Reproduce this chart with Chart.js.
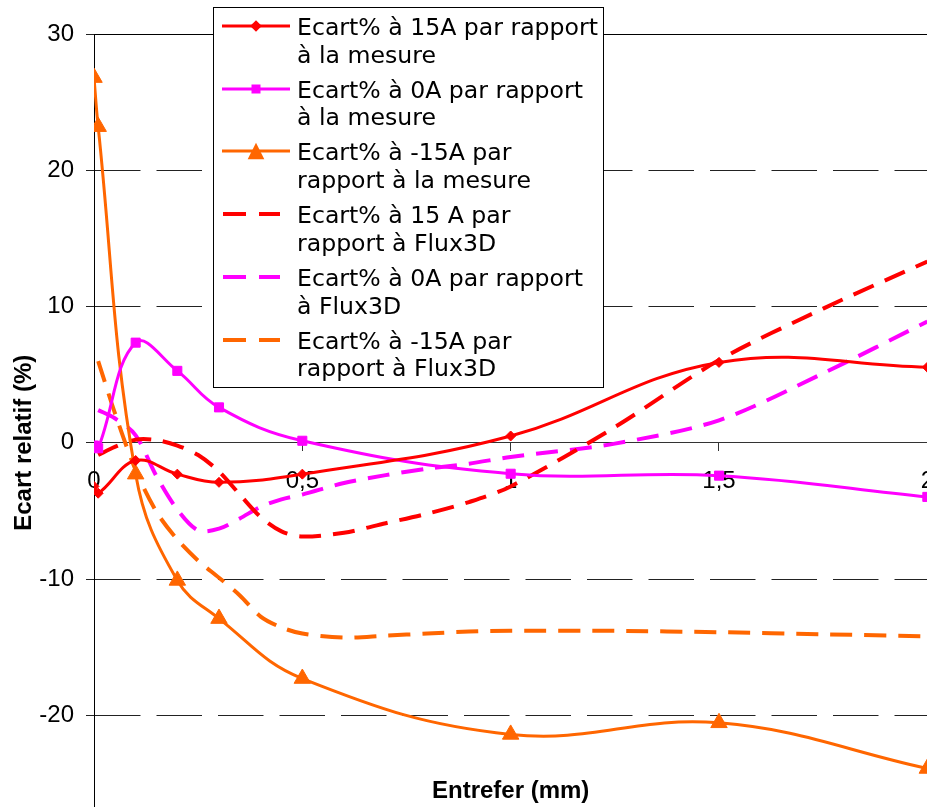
<!DOCTYPE html>
<html>
<head>
<meta charset="utf-8">
<script src="https://cdn.jsdelivr.net/npm/chart.js@4/dist/chart.umd.min.js"></script>
<style>
html,body{margin:0;padding:0;overflow:hidden;background:#fff;width:927px;height:807px}
canvas{display:block}
</style>
</head>
<body>
<canvas id="c" width="950" height="878"></canvas>
<script>
// ---- data ----
const measX    = [0, 0.01, 0.1, 0.2, 0.3, 0.5, 1, 1.5, 2];
const meas15A  = [-3.2, -3.7, -1.3, -2.3, -2.9, -2.3, 0.5, 5.9, 5.55];
const meas0A   = [-0.2, -0.4, 7.35, 5.28, 2.6, 0.15, -2.27, -2.41, -3.97];
const measM15A = [26.8, 23.2, -2.3, -10.1, -12.9, -17.3, -21.4, -20.55, -23.9];

const fluxX    = [0.01, 0.05, 0.1, 0.15, 0.2, 0.25, 0.3, 0.35, 0.4, 0.45, 0.5, 0.6, 0.7, 0.8, 0.9, 1, 1.25, 1.5, 1.75, 2];
const flux15A  = [-0.9, -0.3, 0.23, 0.2, -0.2, -0.9, -2.1, -3.8, -5.45, -6.5, -6.88, -6.6, -5.9, -5.2, -4.35, -3.2, 1.15, 6.07, 9.85, 13.3];
const flux0A   = [2.4, 1.8, 0.55, -2.45, -4.9, -6.43, -6.3, -5.55, -4.7, -4.15, -3.8, -2.95, -2.37, -1.9, -1.53, -1.04, -0.06, 1.65, 5.1, 8.9];
const fluxM15A = [6.0, 2.2, -2.0, -5.07, -7.1, -8.65, -9.9, -11.2, -12.75, -13.55, -14.0, -14.3, -14.15, -14.0, -13.85, -13.8, -13.8, -13.9, -14.05, -14.2];

const yTicks = [-30, -20, -10, 0, 10, 20, 30];
const xTicks = [0, 0.5, 1, 1.5, 2];

const seriesLabels = [
  ["Ecart% à 15A par rapport", "à la mesure"],
  ["Ecart% à 0A par rapport", "à la mesure"],
  ["Ecart% à -15A par", "rapport à la mesure"],
  ["Ecart% à 15 A par", "rapport à Flux3D"],
  ["Ecart% à 0A par rapport", "à Flux3D"],
  ["Ecart% à -15A par", "rapport à Flux3D"]
];
const yTitle = "Ecart relatif (%)";
const xTitle = "Entrefer (mm)";

const RED = '#FF0000', MAG = '#FF00FF', ORA = '#FF6600';
const pts = (xs, ys) => xs.map((x, i) => ({x: x, y: ys[i]}));

function solid(label, xs, ys, color, style, r) {
  return {label, data: pts(xs, ys), borderColor: color, backgroundColor: color,
    borderWidth: 3, pointStyle: style, pointRadius: r, pointHoverRadius: r,
    pointBorderWidth: 1, pointBackgroundColor: color, pointBorderColor: color,
    tension: 0.4, fill: false};
}
function dashed(label, xs, ys, color) {
  return {label, data: pts(xs, ys), borderColor: color, backgroundColor: color,
    borderWidth: 4, borderDash: [22, 12], pointRadius: 0, pointHoverRadius: 0,
    tension: 0.3, fill: false};
}

const datasets = [
  solid(seriesLabels[0], measX, meas15A, RED, 'rectRot', 5),
  solid(seriesLabels[1], measX, meas0A, MAG, 'rect', 6.4),
  solid(seriesLabels[2], measX, measM15A, ORA, 'triangle', 9.5),
  dashed(seriesLabels[3], fluxX, flux15A, RED),
  dashed(seriesLabels[4], fluxX, flux0A, MAG),
  dashed(seriesLabels[5], fluxX, fluxM15A, ORA)
];

function marker(ctx, style, x, y, r) {
  ctx.beginPath();
  if (style === 'rectRot') {
    ctx.moveTo(x, y - r); ctx.lineTo(x + r, y); ctx.lineTo(x, y + r); ctx.lineTo(x - r, y);
  } else if (style === 'rect') {
    ctx.rect(x - r, y - r, 2 * r, 2 * r);
  } else if (style === 'triangle') {
    ctx.moveTo(x, y - r); ctx.lineTo(x + r, y + r); ctx.lineTo(x - r, y + r);
  }
  ctx.closePath();
  ctx.fill();
}

const boxLegend = {
  id: 'boxLegend',
  afterDraw(chart) {
    const ctx = chart.ctx;
    const ca = chart.chartArea;
    ctx.save();
    // x axis title
    ctx.fillStyle = '#000';
    ctx.font = 'bold 24px "Liberation Sans", Arial, sans-serif';
    ctx.textAlign = 'center';
    ctx.textBaseline = 'alphabetic';
    ctx.fillText(xTitle, (ca.left + ca.right) / 2, 797.5);

    // legend box
    const bx = 213.5, by = 7.5, bw = 390, bh = 380;
    ctx.fillStyle = '#fff';
    ctx.fillRect(bx, by, bw, bh);
    ctx.strokeStyle = '#000';
    ctx.lineWidth = 1;
    ctx.setLineDash([]);
    ctx.strokeRect(bx, by, bw, bh);
    ctx.font = '23.6px "DejaVu Sans", Verdana, sans-serif';
    ctx.textAlign = 'left';
    chart.data.datasets.forEach((ds, i) => {
      const base = 35 + 62.7 * i;
      const sy = Math.round(base - 9);
      ctx.save();
      ctx.strokeStyle = ds.borderColor;
      ctx.lineWidth = ds.borderWidth;
      ctx.beginPath();
      if (ds.borderDash) {
        ctx.setLineDash(ds.borderDash.map(v => v + 1));
        ctx.moveTo(223, sy); ctx.lineTo(280, sy);
      } else {
        ctx.moveTo(222, sy); ctx.lineTo(290, sy);
      }
      ctx.stroke();
      ctx.setLineDash([]);
      if (ds.pointRadius) {
        ctx.fillStyle = ds.pointBackgroundColor;
        const r = ds.pointStyle === 'triangle' ? 8.3 : (ds.pointStyle === 'rect' ? 4.5 : 5.8);
        marker(ctx, ds.pointStyle, 256, sy, r);
      }
      ctx.restore();
      ctx.fillStyle = '#000';
      ds.label.forEach((line, k) => ctx.fillText(line, 297, base + 27.7 * k));
    });
    ctx.restore();
  }
};

new Chart(document.getElementById('c'), {
  type: 'line',
  data: {datasets},
  options: {
    responsive: false,
    animation: false,
    events: [],
    layout: {padding: {left: 0, top: 34, right: 18, bottom: 19.5}},
    plugins: {legend: {display: false}, tooltip: {enabled: false}, title: {display: false}},
    scales: {
      x: {
        type: 'linear', position: {y: 0}, min: 0, max: 2,
        afterBuildTicks: s => { s.ticks = xTicks.map(v => ({value: v})); },
        ticks: {color: '#000', font: {family: '"Liberation Sans", Arial, sans-serif', size: 24},
          padding: 16, maxRotation: 0, autoSkip: false,
          callback: v => String(v).replace('.', ',')},
        grid: {drawOnChartArea: false, drawTicks: true, tickLength: 8, tickColor: '#333', tickWidth: 1},
        border: {display: true, color: '#333', width: 1}
      },
      xTop: {
        type: 'linear', position: 'top', min: 0, max: 2, axis: 'x',
        ticks: {display: false},
        grid: {display: false, drawTicks: false},
        border: {display: true, color: '#000', width: 1},
        afterFit: s => { s.height = 0; }
      },
      y: {
        type: 'linear', position: 'left', min: -30, max: 30,
        afterBuildTicks: s => { s.ticks = yTicks.map(v => ({value: v})); },
        afterFit: s => { s.width = 94; },
        ticks: {color: '#000', font: {family: '"Liberation Sans", Arial, sans-serif', size: 24}, padding: 12},
        grid: {color: '#222', lineWidth: 1, drawTicks: true, tickLength: 8, tickColor: '#222'},
        border: {display: true, color: '#000', width: 1, dash: [45.5, 16]},
        title: {display: true, text: yTitle, color: '#000',
          font: {family: '"Liberation Sans", Arial, sans-serif', size: 24, weight: 'bold'},
          padding: {top: 10, bottom: 0}}
      }
    }
  },
  plugins: [boxLegend]
});
</script>
</body>
</html>
